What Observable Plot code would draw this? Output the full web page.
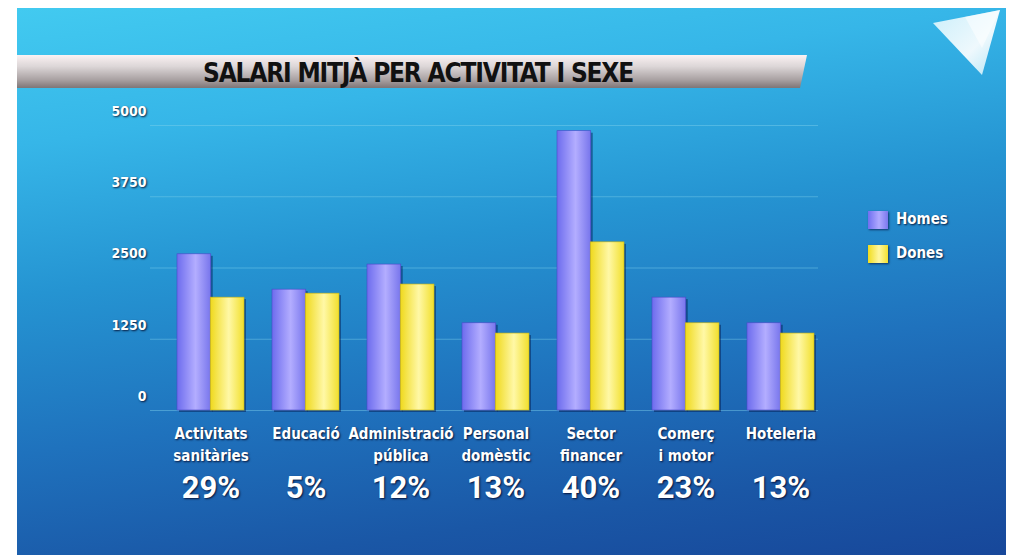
<!DOCTYPE html>
<html>
<head>
<meta charset="utf-8">
<script src="https://cdn.jsdelivr.net/npm/d3@7"></script>
<script src="https://cdn.jsdelivr.net/npm/@observablehq/plot@0.6"></script>
<style>
  html, body { margin: 0; padding: 0; background: #fff; }
  #wrap { position: relative; width: 1009px; height: 555px; overflow: hidden; background: #fff; }
  #bg { position: absolute; left: 17px; top: 8px; width: 989px; height: 547px;
        background: linear-gradient(172deg, #42caf0 0%, #36b6e8 20%, #2594d2 42%, #1f72bd 65%, #1a57a6 85%, #17479a 100%); }
  #title { position: absolute; left: 17px; top: 55px; width: 790px; height: 33px; line-height: 36px;
           text-align: center; font-family: "DejaVu Sans Condensed", "DejaVu Sans", sans-serif; font-stretch: condensed;
           font-weight: bold; font-size: 26px; color: #111; letter-spacing: -1.2px; padding-left: 12px; box-sizing: border-box; }
  #chart { position: absolute; left: 0; top: 0; }
  .legend { position: absolute; left: 868px; font-family: "DejaVu Sans Condensed", "DejaVu Sans", sans-serif; font-stretch: condensed;
            font-weight: bold; font-size: 15px; color: #fff; text-shadow: 1px 1px 2px rgba(0,0,30,0.8); }
  .legend .sw { position: absolute; left: 0; width: 20px; height: 18px; box-shadow: 1px 1px 2px rgba(0,0,40,0.6); }
  .legend .lb { position: absolute; left: 28px; top: -1px; white-space: nowrap; }
  svg.salari text { text-shadow: 1px 1px 2px rgba(0,0,30,0.8); }
</style>
</head>
<body>
<div id="wrap">
  <div id="bg"></div>
  <svg style="position:absolute;left:0;top:0" width="1009" height="555">
    <defs>
      <linearGradient id="bannerG" x1="0" x2="0" y1="0" y2="1">
        <stop offset="0" stop-color="#fbf2f3"/>
        <stop offset="0.35" stop-color="#dcd6d7"/>
        <stop offset="0.75" stop-color="#a9a1a2"/>
        <stop offset="1" stop-color="#7f7576"/>
      </linearGradient>
      <linearGradient id="logoG" x1="0" x2="1" y1="0" y2="1">
        <stop offset="0" stop-color="#d8f4fc"/>
        <stop offset="0.6" stop-color="#ffffff"/>
        <stop offset="1" stop-color="#bfeaf8"/>
      </linearGradient>
    </defs>
    <polygon points="17,55 807,55 800,88 17,88" fill="url(#bannerG)"/>
    <polygon points="933,23 1000,10 982,75" fill="url(#logoG)" opacity="0.92"/>
    <polygon points="965,17 1000,10 982,48" fill="#ffffff" opacity="0.5"/>
  </svg>
  <div id="title">SALARI MITJÀ PER ACTIVITAT I SEXE</div>
  <div id="chart"></div>
  <div class="legend" style="top:211px"><div class="sw" style="background:linear-gradient(90deg,#6f6ff0,#b0aaff 55%,#7a78ee)"></div><div class="lb">Homes</div></div>
  <div class="legend" style="top:245px"><div class="sw" style="background:linear-gradient(90deg,#f0dc1e,#fff7a0 55%,#f2e030)"></div><div class="lb">Dones</div></div>
</div>
<script>
// ---- data ----
const categories = ["Activitats sanitàries", "Educació", "Administració pública", "Personal domèstic", "Sector financer", "Comerç i motor", "Hoteleria"];
const categoryLabels = ["Activitats\nsanitàries", "Educació", "Administració\npública", "Personal\ndomèstic", "Sector\nfinancer", "Comerç\ni motor", "Hoteleria"];
const homes = [2740, 2120, 2560, 1530, 4900, 1980, 1530];
const dones = [1980, 2050, 2210, 1350, 2950, 1530, 1350];
const gaps = ["29%", "5%", "12%", "13%", "40%", "23%", "13%"];
const yTicks = [0, 1250, 2500, 3750, 5000];

const table = categories.map((c, i) => ({category: c, label: categoryLabels[i], homes: homes[i], dones: dones[i], gap: gaps[i]}));

function defs() {
  const ns = "http://www.w3.org/2000/svg";
  const d = document.createElementNS(ns, "defs");
  d.innerHTML = `
    <linearGradient id="gH" x1="0" x2="1" y1="0" y2="0">
      <stop offset="0" stop-color="#6d6cee"/>
      <stop offset="0.55" stop-color="#b3adff"/>
      <stop offset="1" stop-color="#7775ec"/>
    </linearGradient>
    <linearGradient id="gD" x1="0" x2="1" y1="0" y2="0">
      <stop offset="0" stop-color="#efd91c"/>
      <stop offset="0.55" stop-color="#fff8a6"/>
      <stop offset="1" stop-color="#f1df2c"/>
    </linearGradient>`;
  return d;
}

const half = 33.25;
const labelFont = '"DejaVu Sans Condensed", "DejaVu Sans", sans-serif';

const chart = Plot.plot({
  width: 1009,
  height: 555,
  marginTop: 125,
  marginBottom: 145,
  marginLeft: 150,
  marginRight: 191,
  className: "salari",
  style: {background: "transparent", color: "white", overflow: "visible", fontFamily: labelFont},
  x: {domain: categories, range: [177, 813.5], paddingInner: 0.3, paddingOuter: 0, axis: null},
  y: {domain: [0, 5000], axis: null},
  marks: [
    defs,
    Plot.ruleY(yTicks, {stroke: "#7fd0ea", strokeOpacity: 0.45, strokeWidth: 1}),
    Plot.axisY({ticks: yTicks, tickSize: 0, tickPadding: 4, dy: -14, fill: "white", fontWeight: "bold", fontSize: 14, fontFamily: labelFont, tickFormat: d => String(d)}),
    Plot.barY(table, {x: "category", y: "homes", insetRight: half, fill: "rgba(0,20,70,0.45)", dx: 2, dy: 2}),
    Plot.barY(table, {x: "category", y: "dones", insetLeft: half, fill: "rgba(0,20,70,0.45)", dx: 2, dy: 2}),
    Plot.barY(table, {x: "category", y: "homes", insetRight: half, fill: "url(#gH)", stroke: "#4a4ac8", strokeWidth: 0.6}),
    Plot.barY(table, {x: "category", y: "dones", insetLeft: half, fill: "url(#gD)", stroke: "#c9b410", strokeWidth: 0.6}),
    Plot.text(table, {x: "category", text: "label", frameAnchor: "bottom", lineAnchor: "top", dy: 13, lineHeight: 1.45,
      fill: "white", fontWeight: "bold", fontSize: 15, fontFamily: labelFont}),
    Plot.text(table, {x: "category", text: "gap", frameAnchor: "bottom", lineAnchor: "middle", dy: 78,
      fill: "white", fontWeight: "bold", fontSize: 31, fontFamily: "Roboto, sans-serif"})
  ]
});
document.getElementById("chart").appendChild(chart);
</script>
</body>
</html>
